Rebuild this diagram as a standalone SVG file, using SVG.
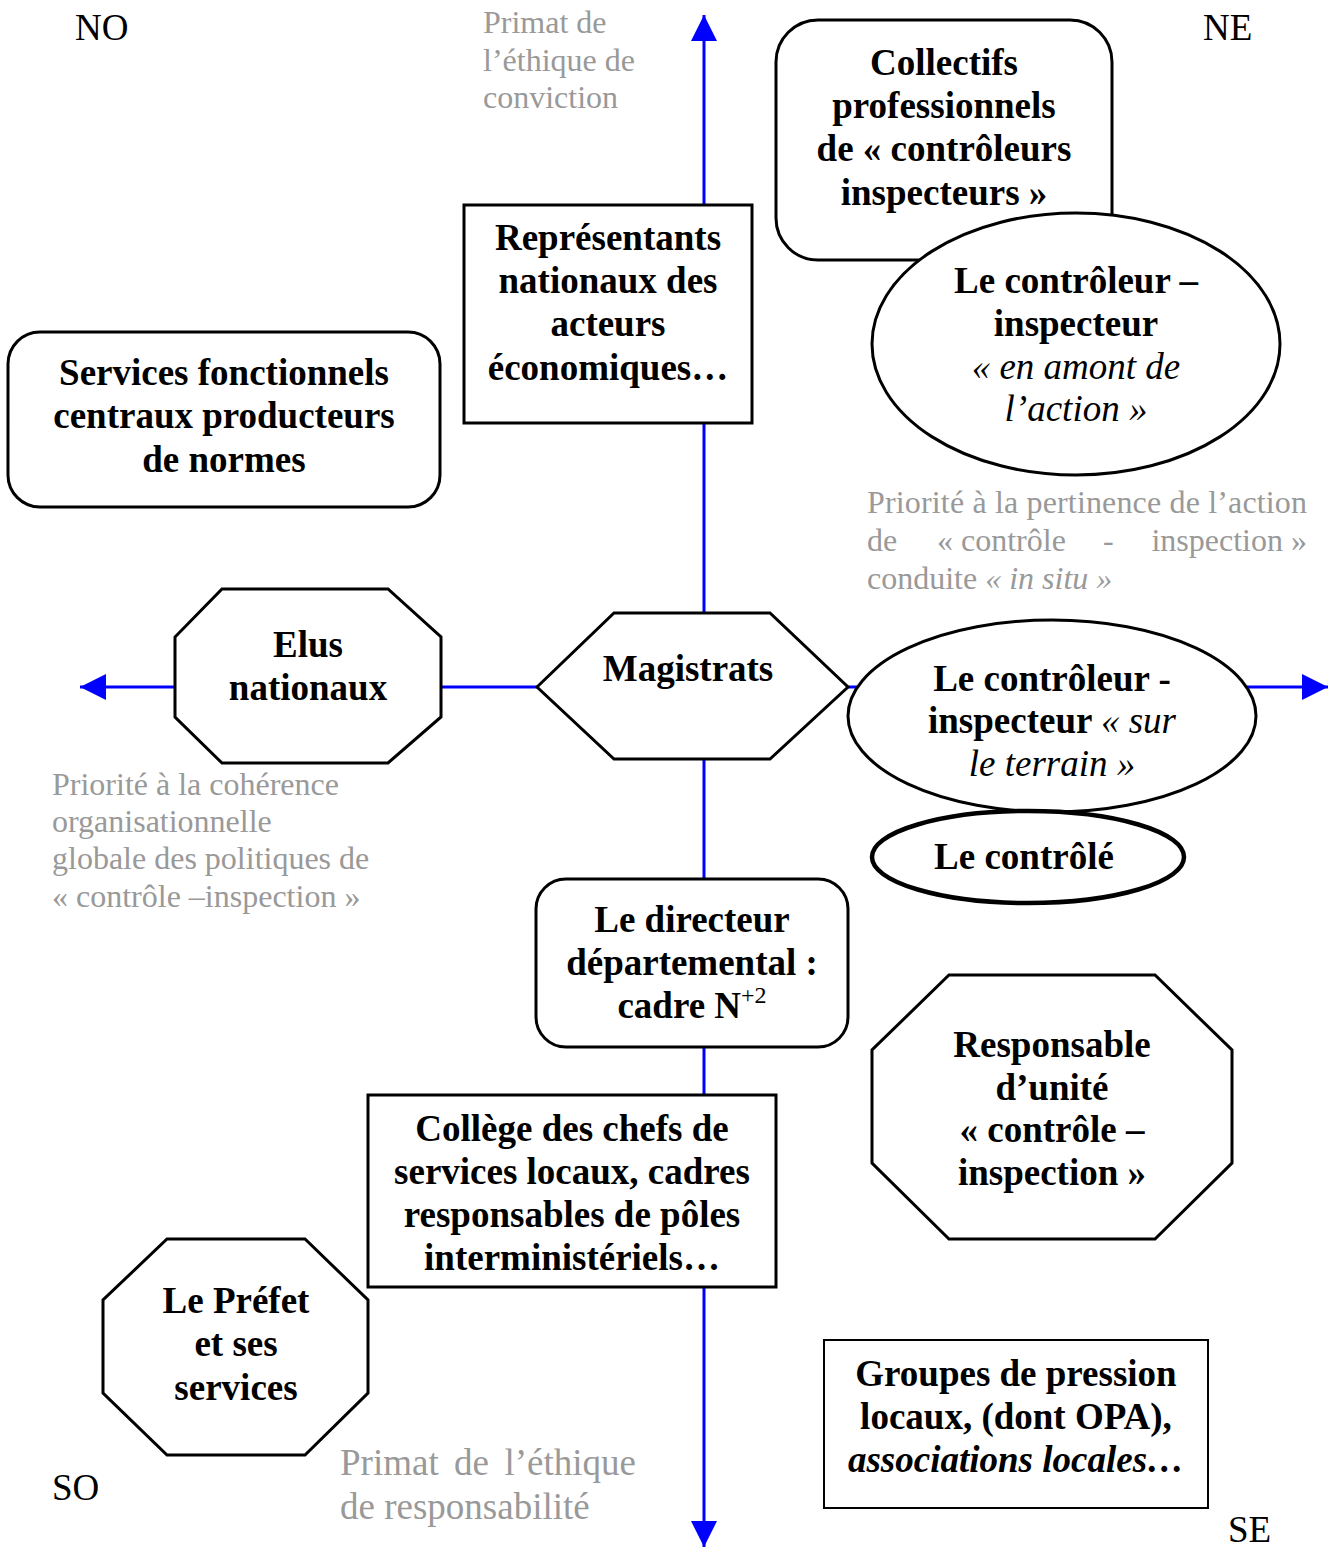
<svg xmlns="http://www.w3.org/2000/svg" width="1333" height="1548" viewBox="0 0 1333 1548">
  <style>
    .node { fill: #ffffff; stroke: #000000; stroke-width: 3; }
    .thick { stroke-width: 4.5; }
    .thin { stroke-width: 2; }
    .lbl { font-family: "Liberation Serif", "Times New Roman", serif; font-size: 37px; font-weight: bold; fill: #000000; text-anchor: middle; }
    .it { font-style: italic; }
    .nw { font-weight: normal; }
    .note { font-family: "Liberation Serif", "Times New Roman", serif; font-size: 32px; fill: #999999; }
    .note-lg { font-family: "Liberation Serif", "Times New Roman", serif; font-size: 37px; fill: #999999; }
    .corner { font-family: "Liberation Serif", "Times New Roman", serif; font-size: 37px; fill: #000000; }
    .axis { stroke: #0000ff; stroke-width: 3; fill: none; marker-end: url(#arrow); }
  </style>
  <defs>
    <marker id="arrow" markerUnits="userSpaceOnUse" markerWidth="28" markerHeight="28" refX="26" refY="13" orient="auto">
      <path d="M0,0 L26,13 L0,26 Z" fill="#0000ff"/>
    </marker>
  </defs>

  <rect width="1333" height="1548" fill="#ffffff"/>

  <!-- axes -->
  <g id="connectors">
    <line class="axis" x1="704" y1="687" x2="704" y2="15"/>
    <line class="axis" x1="704" y1="687" x2="704" y2="1547"/>
    <line class="axis" x1="704" y1="687" x2="80" y2="687"/>
    <line class="axis" x1="704" y1="687" x2="1328" y2="687"/>
  </g>

  <!-- compass corners -->
  <text class="corner" x="75" y="40">NO</text>
  <text class="corner" x="1203" y="40">NE</text>
  <text class="corner" x="52" y="1500">SO</text>
  <text class="corner" x="1228" y="1542">SE</text>

  <!-- grey annotations -->
  <text class="note" x="483" y="33">Primat de</text>
  <text class="note" x="483" y="71">l’éthique de</text>
  <text class="note" x="483" y="108">conviction</text>

  <text class="note" x="867" y="513" textLength="440" lengthAdjust="spacing">Priorité à la pertinence de l’action</text>
  <text class="note" x="867" y="551">de</text>
  <text class="note" x="937" y="551">« contrôle</text>
  <text class="note" x="1103" y="551">-</text>
  <text class="note" x="1307" y="551" text-anchor="end">inspection »</text>
  <text class="note" x="867" y="589">conduite <tspan class="it">« in situ »</tspan></text>

  <text class="note" x="52" y="795">Priorité à la cohérence</text>
  <text class="note" x="52" y="832">organisationnelle</text>
  <text class="note" x="52" y="869">globale des politiques de</text>
  <text class="note" x="52" y="907">« contrôle –inspection »</text>

  <text class="note-lg" x="340" y="1475">Primat</text>
  <text class="note-lg" x="454" y="1475">de</text>
  <text class="note-lg" x="636" y="1475" text-anchor="end">l’éthique</text>
  <text class="note-lg" x="340" y="1519">de responsabilité</text>

  <!-- nodes -->
  <g id="collectifs">
    <rect class="node" x="776" y="20" width="336" height="240" rx="42"/>
    <text class="lbl" x="944" y="75">Collectifs</text>
    <text class="lbl" x="944" y="118">professionnels</text>
    <text class="lbl" x="944" y="161">de « contrôleurs</text>
    <text class="lbl" x="944" y="205">inspecteurs »</text>
  </g>

  <g id="controleur-amont">
    <ellipse class="node" cx="1076" cy="344" rx="204" ry="131"/>
    <text class="lbl" x="1076" y="293">Le contrôleur –</text>
    <text class="lbl" x="1076" y="336">inspecteur</text>
    <text class="lbl it nw" x="1076" y="379">« en amont de</text>
    <text class="lbl it nw" x="1076" y="421">l’action »</text>
  </g>

  <g id="representants">
    <rect class="node" x="464" y="205" width="288" height="218"/>
    <text class="lbl" x="608" y="250">Représentants</text>
    <text class="lbl" x="608" y="293">nationaux des</text>
    <text class="lbl" x="608" y="336">acteurs</text>
    <text class="lbl" x="608" y="380">économiques…</text>
  </g>

  <g id="services">
    <rect class="node" x="8" y="332" width="432" height="175" rx="32"/>
    <text class="lbl" x="224" y="385">Services fonctionnels</text>
    <text class="lbl" x="224" y="428">centraux producteurs</text>
    <text class="lbl" x="224" y="472">de normes</text>
  </g>

  <g id="elus">
    <polygon class="node" points="222,589 388,589 441,637 441,717 388,763 222,763 175,717 175,637"/>
    <text class="lbl" x="308" y="657">Elus</text>
    <text class="lbl" x="308" y="700">nationaux</text>
  </g>

  <g id="magistrats">
    <polygon class="node" points="537,687 614,613 770,613 848,687 770,759 614,759"/>
    <text class="lbl" x="688" y="681">Magistrats</text>
  </g>

  <g id="controleur-terrain">
    <ellipse class="node" cx="1052" cy="716" rx="204" ry="96"/>
    <text class="lbl" x="1052" y="691">Le contrôleur -</text>
    <text class="lbl" x="1052" y="733">inspecteur <tspan class="it nw">« sur</tspan></text>
    <text class="lbl it nw" x="1052" y="776">le terrain »</text>
  </g>

  <g id="controle">
    <ellipse class="node thick" cx="1028" cy="857" rx="156" ry="46"/>
    <text class="lbl" x="1024" y="869">Le contrôlé</text>
  </g>

  <g id="directeur">
    <rect class="node" x="536" y="879" width="312" height="168" rx="30"/>
    <text class="lbl" x="692" y="932">Le directeur</text>
    <text class="lbl" x="692" y="975">départemental :</text>
    <text class="lbl" x="692" y="1018">cadre N<tspan class="nw" font-size="24" dy="-15">+2</tspan></text>
  </g>

  <g id="responsable">
    <polygon class="node" points="949,975 1155,975 1232,1050 1232,1163 1155,1239 949,1239 872,1163 872,1050"/>
    <text class="lbl" x="1052" y="1057">Responsable</text>
    <text class="lbl" x="1052" y="1100">d’unité</text>
    <text class="lbl" x="1052" y="1142">« contrôle –</text>
    <text class="lbl" x="1052" y="1185">inspection »</text>
  </g>

  <g id="college">
    <rect class="node" x="368" y="1095" width="408" height="192"/>
    <text class="lbl" x="572" y="1141">Collège des chefs de</text>
    <text class="lbl" x="572" y="1184">services locaux, cadres</text>
    <text class="lbl" x="572" y="1227">responsables de pôles</text>
    <text class="lbl" x="572" y="1270">interministériels…</text>
  </g>

  <g id="prefet">
    <polygon class="node" points="167,1239 305,1239 368,1300 368,1393 305,1455 167,1455 103,1393 103,1300"/>
    <text class="lbl" x="236" y="1313">Le Préfet</text>
    <text class="lbl" x="236" y="1356">et ses</text>
    <text class="lbl" x="236" y="1400">services</text>
  </g>

  <g id="groupes">
    <rect class="node thin" x="824" y="1340" width="384" height="168"/>
    <text class="lbl" x="1016" y="1386">Groupes de pression</text>
    <text class="lbl" x="1016" y="1429">locaux, (dont OPA),</text>
    <text class="lbl it" x="1016" y="1472">associations locales…</text>
  </g>
</svg>
